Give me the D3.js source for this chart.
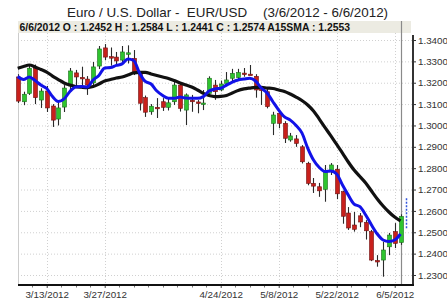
<!DOCTYPE html>
<html><head><meta charset="utf-8">
<script src="https://cdn.jsdelivr.net/npm/d3@7"></script>
<style>body{margin:0;background:#fff}svg{display:block}text{white-space:pre}</style>
</head><body><svg id="c" width="447" height="300"></svg>
<script>
const dates=["3/6/2012","3/7/2012","3/8/2012","3/9/2012","3/12/2012","3/13/2012","3/14/2012","3/15/2012","3/16/2012","3/19/2012","3/20/2012","3/21/2012","3/22/2012","3/23/2012","3/26/2012","3/27/2012","3/28/2012","3/29/2012","3/30/2012","4/2/2012","4/3/2012","4/4/2012","4/5/2012","4/6/2012","4/9/2012","4/10/2012","4/11/2012","4/12/2012","4/13/2012","4/16/2012","4/17/2012","4/18/2012","4/19/2012","4/20/2012","4/23/2012","4/24/2012","4/25/2012","4/26/2012","4/27/2012","4/30/2012","5/1/2012","5/2/2012","5/3/2012","5/4/2012","5/7/2012","5/8/2012","5/9/2012","5/10/2012","5/11/2012","5/14/2012","5/15/2012","5/16/2012","5/17/2012","5/18/2012","5/21/2012","5/22/2012","5/23/2012","5/24/2012","5/25/2012","5/28/2012","5/29/2012","5/30/2012","5/31/2012","6/1/2012","6/4/2012","6/5/2012","6/6/2012"];
const openV=[1.3227,1.3111,1.3150,1.3268,1.3119,1.3161,1.3091,1.3030,1.3086,1.3185,1.3246,1.3225,1.3217,1.3199,1.3278,1.3363,1.3322,1.3320,1.3306,1.3335,1.3314,1.3240,1.3130,1.3064,1.3085,1.3111,1.3085,1.3111,1.3189,1.3072,1.3118,1.3110,1.3100,1.3150,1.3189,1.3166,1.3197,1.3221,1.3224,1.3245,1.3240,1.3230,1.3170,1.3158,1.3010,1.3057,1.3010,1.2932,1.2937,1.2900,1.2823,1.2729,1.2713,1.2701,1.2783,1.2795,1.2690,1.2590,1.2534,1.2577,1.2546,1.2503,1.2368,1.2370,1.2432,1.2503,1.2452];
const highV=[1.3240,1.3158,1.3282,1.3285,1.3174,1.3185,1.3100,1.3110,1.3189,1.3269,1.3260,1.3275,1.3231,1.3297,1.3372,1.3381,1.3365,1.3344,1.3372,1.3375,1.3353,1.3250,1.3140,1.3100,1.3128,1.3128,1.3126,1.3204,1.3200,1.3150,1.3143,1.3119,1.3166,1.3230,1.3213,1.3210,1.3250,1.3265,1.3265,1.3269,1.3283,1.3240,1.3180,1.3170,1.3064,1.3064,1.3020,1.2965,1.2955,1.2908,1.2830,1.2754,1.2731,1.2815,1.2824,1.2815,1.2695,1.2618,1.2595,1.2590,1.2557,1.2511,1.2393,1.2456,1.2497,1.2543,1.2584];
const lowV=[1.3105,1.3095,1.3143,1.3100,1.3082,1.3063,1.2993,1.3000,1.3063,1.3166,1.3185,1.3175,1.3143,1.3180,1.3264,1.3306,1.3280,1.3278,1.3292,1.3290,1.3236,1.3070,1.3040,1.3050,1.3035,1.3068,1.3070,1.3096,1.3065,1.3002,1.3064,1.3057,1.3072,1.3140,1.3120,1.3160,1.3190,1.3205,1.3215,1.3228,1.3236,1.3130,1.3096,1.3080,1.2955,1.2987,1.2918,1.2924,1.2900,1.2822,1.2720,1.2684,1.2666,1.2643,1.2768,1.2655,1.2540,1.2511,1.2503,1.2524,1.2466,1.2365,1.2339,1.2292,1.2393,1.2426,1.2441];
const closeV=[1.3114,1.3146,1.3268,1.3130,1.3161,1.3082,1.3025,1.3082,1.3175,1.3255,1.3227,1.3220,1.3189,1.3274,1.3358,1.3320,1.3315,1.3302,1.3344,1.3340,1.3244,1.3104,1.3062,1.3090,1.3080,1.3085,1.3106,1.3189,1.3080,1.3143,1.3115,1.3108,1.3105,1.3221,1.3158,1.3194,1.3213,1.3244,1.3248,1.3243,1.3238,1.3166,1.3165,1.3088,1.3049,1.3010,1.2940,1.2951,1.2916,1.2830,1.2729,1.2716,1.2694,1.2783,1.2815,1.2680,1.2575,1.2520,1.2514,1.2548,1.2507,1.2370,1.2365,1.2417,1.2487,1.2448,1.2574];
const sma15=[1.3268,1.3276,1.3283,1.3274,1.3262,1.3250,1.3231,1.3215,1.3199,1.3189,1.3182,1.3179,1.3177,1.3182,1.3194,1.3208,1.3215,1.3222,1.3227,1.3236,1.3246,1.3248,1.3248,1.3241,1.3234,1.3227,1.3220,1.3210,1.3199,1.3189,1.3180,1.3166,1.3150,1.3140,1.3135,1.3136,1.3140,1.3152,1.3164,1.3171,1.3175,1.3178,1.3178,1.3175,1.3173,1.3166,1.3159,1.3147,1.3133,1.3117,1.3096,1.3068,1.3030,1.2990,1.2951,1.2911,1.2871,1.2829,1.2791,1.2761,1.2731,1.2693,1.2656,1.2623,1.2595,1.2571,1.2553];
const fastMA=[1.3229,1.3215,1.3227,1.3210,1.3189,1.3173,1.3135,1.3112,1.3124,1.3159,1.3180,1.3182,1.3180,1.3213,1.3234,1.3269,1.3271,1.3281,1.3288,1.3311,1.3304,1.3246,1.3206,1.3194,1.3161,1.3140,1.3127,1.3127,1.3133,1.3128,1.3127,1.3127,1.3135,1.3161,1.3171,1.3174,1.3189,1.3203,1.3213,1.3217,1.3221,1.3208,1.3175,1.3152,1.3111,1.3072,1.3040,1.3025,1.3000,1.2965,1.2894,1.2838,1.2803,1.2784,1.2787,1.2773,1.2721,1.2674,1.2632,1.2620,1.2581,1.2534,1.2492,1.2464,1.2457,1.2464,1.2492];
const projRange=[1.2659,1.2518];
const yTicks=[1.23,1.24,1.25,1.26,1.27,1.28,1.29,1.30,1.31,1.32,1.33,1.34];
const xTickLabels=["3/13/2012","3/27/2012","4/24/2012","5/8/2012","5/22/2012","6/5/2012"];
const titleLeft="Euro / U.S. Dollar -  EUR/USD";
const titleRight="(3/6/2012 - 6/6/2012)";
const infoText="6/6/2012 O : 1.2452 H : 1.2584 L : 1.2441 C : 1.2574 A15SMA : 1.2553";

const svg=d3.select("#c");
const L=18,R=413,T=33,B=285;
const x=d3.scaleLinear().domain([0,dates.length-1]).range([17.7,400.5]);
const y=d3.scaleLinear().domain([1.23,1.34]).range([275,40]);
const font="Arial, 'Liberation Sans', sans-serif";

// title
svg.append("text").attr("x",67).attr("y",17).attr("font-family",font).attr("font-size",13.4).attr("fill","#222").text(titleLeft);
svg.append("text").attr("x",263).attr("y",17).attr("font-family",font).attr("font-size",13.4).attr("fill","#222").text(titleRight);

// info bar
svg.append("rect").attr("x",L).attr("y",21).attr("width",393).attr("height",12).attr("fill","#ecebe2");
svg.append("text").attr("x",19.5).attr("y",30.5).attr("font-family",font).attr("font-size",10.4).attr("font-weight","bold").attr("fill","#111").text(infoText);

// grid
const g=svg.append("g");
g.selectAll("line.h").data(yTicks).join("line").attr("x1",L).attr("x2",R).attr("y1",d=>y(d)+0.5).attr("y2",d=>y(d)+0.5).attr("stroke","#d0d0d0").attr("stroke-dasharray","1,2");
const xTickIdx=xTickLabels.map(s=>dates.indexOf(s));
g.selectAll("line.v").data(xTickIdx).join("line").attr("x1",d=>Math.round(x(d))+0.5).attr("x2",d=>Math.round(x(d))+0.5).attr("y1",T).attr("y2",B).attr("stroke","#d0d0d0").attr("stroke-dasharray","1,2");
svg.append("line").attr("x1",L+0.5).attr("x2",L+0.5).attr("y1",T).attr("y2",B).attr("stroke","#ccc");

// crosshair
svg.append("line").attr("x1",Math.round(x(66))+0.5).attr("x2",Math.round(x(66))+0.5).attr("y1",21).attr("y2",B).attr("stroke","#8a8a8a").attr("stroke-width",1.2);

// candles
const idx=d3.range(dates.length);
const cg=svg.append("g");
cg.selectAll("line.w").data(idx).join("line").attr("x1",i=>Math.round(x(i))+0.5).attr("x2",i=>Math.round(x(i))+0.5)
 .attr("y1",i=>y(highV[i])).attr("y2",i=>y(lowV[i])).attr("stroke","#2a2a2a").attr("stroke-width",1.1);
cg.selectAll("rect").data(idx).join("rect")
 .attr("x",i=>Math.round(x(i))-1.5).attr("width",4)
 .attr("y",i=>y(Math.max(openV[i],closeV[i])))
 .attr("height",i=>Math.max(1.5,Math.abs(y(openV[i])-y(closeV[i]))))
 .attr("fill",i=>closeV[i]>=openV[i]?"#2fc42f":"#c8201c")
 .attr("stroke",i=>closeV[i]>=openV[i]?"#1d6e1d":"#6e1212").attr("stroke-width",0.6);

// MA lines
const line=d3.line().x((d,i)=>x(i)).y(d=>y(d)).curve(d3.curveMonotoneX);
svg.append("path").attr("d",line(sma15)).attr("fill","none").attr("stroke","#111").attr("stroke-width",3.2);
svg.append("path").attr("d",line(fastMA)).attr("fill","none").attr("stroke","#1212e8").attr("stroke-width",3);

// projection dashed segment
svg.append("line").attr("x1",Math.round(x(67))+0.5).attr("x2",Math.round(x(67))+0.5).attr("y1",y(projRange[0])).attr("y2",y(projRange[1])).attr("stroke","#3355dd").attr("stroke-width",1.5).attr("stroke-dasharray","2,1.5");

// axes
const ya=d3.axisRight(y).tickValues(yTicks).tickFormat(d3.format(".4f")).tickSize(3).tickPadding(2);
const yg=svg.append("g").attr("transform",`translate(${R},0)`).call(ya);
yg.select(".domain").remove();
yg.selectAll("text").attr("font-family",font).attr("font-size",9.8).attr("fill","#333");
yg.selectAll("line").attr("stroke","#333");
svg.append("line").attr("x1",R).attr("x2",R).attr("y1",35).attr("y2",B+1).attr("stroke","#333").attr("stroke-width",2);

const minor=d3.range(2.5,dates.length,2.5);
const xa=d3.axisBottom(x).tickValues(xTickIdx).tickFormat(i=>dates[i]).tickSize(3).tickPadding(3);
const xg=svg.append("g").attr("transform",`translate(0,${B})`).call(xa);
xg.select(".domain").remove();
xg.selectAll("text").attr("font-family",font).attr("font-size",9.8).attr("fill","#333");
xg.selectAll("line").attr("stroke","#555");
svg.append("g").selectAll("line").data(minor).join("line").attr("x1",d=>Math.round(x(d))+0.5).attr("x2",d=>Math.round(x(d))+0.5).attr("y1",B).attr("y2",B+2.5).attr("stroke","#777");
svg.append("line").attr("x1",L).attr("x2",R+1).attr("y1",B).attr("y2",B).attr("stroke","#111").attr("stroke-width",2);
</script></body></html>
